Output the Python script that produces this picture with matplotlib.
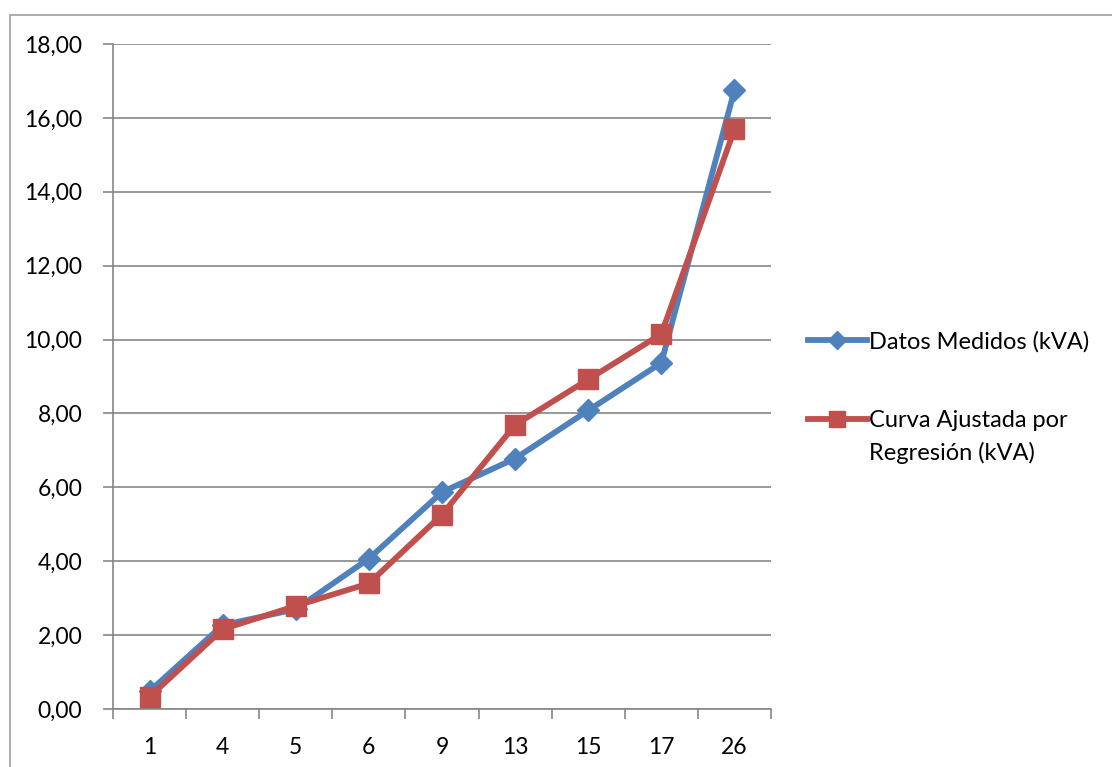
import matplotlib
matplotlib.use('Agg')
import matplotlib.pyplot as plt
from matplotlib.patches import Rectangle
import numpy as np

plt.rcParams['font.family'] = ['Lato', 'DejaVu Sans']

categories = ['1', '4', '5', '6', '9', '13', '15', '17', '26']
medidos = [0.48, 2.27, 2.70, 4.07, 5.87, 6.78, 8.08, 9.37, 16.75]
ajustada = [0.33, 2.16, 2.79, 3.40, 5.26, 7.69, 8.92, 10.15, 15.69]
yticks = np.arange(0, 18.1, 2)
labelMedidos = 'Datos Medidos (kVA)'
labelAjustada = ['Curva Ajustada por', 'Regresión (kVA)']

blue = '#4F81BD'
red = '#C0504D'
gridGray = '#868686'

fig = plt.figure(figsize=(11.12, 7.67), dpi=100)
ax = fig.add_axes([113/1112, 1 - 709/767, 658/1112, 665/767])

x = np.arange(len(categories))
ax.plot(x, medidos, color=blue, lw=4.2, marker='D', ms=11, mfc=blue, mec=blue,
        label=labelMedidos, zorder=3)
ax.plot(x, ajustada, color=red, lw=4.2, marker='s', ms=14, mfc=red, mec=red,
        label=labelAjustada[0], zorder=4)

ax.set_xlim(-0.5, len(categories) - 0.5)
ax.set_ylim(0, 18)
ax.set_yticks(yticks)
ax.set_yticklabels([('%.2f' % v).replace('.', ',') for v in yticks])
ax.set_xticks(x)
ax.set_xticklabels(categories)
ax.set_xticks(np.arange(len(categories) + 1) - 0.5, minor=True)
ax.tick_params(axis='x', which='major', length=0, pad=20, labelsize=16.5)
ax.tick_params(axis='x', which='minor', length=7, color=gridGray, width=1.2, direction='out')
ax.tick_params(axis='y', length=7, color=gridGray, width=1.2, pad=15, labelsize=16.5)

ax.grid(axis='y', color=gridGray, lw=1.2)
ax.set_axisbelow(True)
for s in ['top', 'right']:
    ax.spines[s].set_visible(False)
for s in ['left', 'bottom']:
    ax.spines[s].set_color(gridGray)
    ax.spines[s].set_linewidth(1.2)

leg = ax.legend(loc='upper left', bbox_to_anchor=(1.056, 0.569), frameon=False,
                fontsize=17, handlelength=2.5, handletextpad=0.1, labelspacing=2.47,
                markerscale=0.8, borderpad=0, borderaxespad=0)

# second line of the red label, placed under the first one
fig.canvas.draw()
bb = leg.get_texts()[1].get_window_extent()
fig.text(bb.x0 / 1112, (bb.y0 - 33) / 767, labelAjustada[1], fontsize=17,
         va='bottom', ha='left')

fig.patches.append(Rectangle((10/1112, -0.05), 1.2, 1 - 15/767 + 0.05,
                             transform=fig.transFigure, fill=False,
                             edgecolor='#A0A0A0', lw=1.2))

fig.savefig('out.png', dpi=100)
